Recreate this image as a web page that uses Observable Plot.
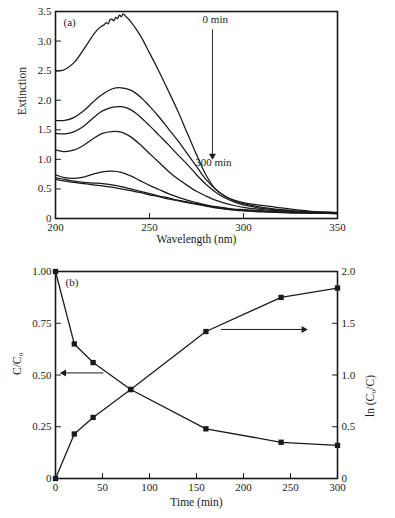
<!DOCTYPE html>
<html>
<head>
<meta charset="utf-8">
<script src="https://cdn.jsdelivr.net/npm/d3@7"></script>
<script src="https://cdn.jsdelivr.net/npm/@observablehq/plot@0.6"></script>
<style>
  html, body { margin: 0; padding: 0; background: #fff; }
  #chart svg { display: block; }
</style>
</head>
<body>
<div id="chart"></div>
<script>
// ---------- Panel (a): extinction spectra ----------
const times = [0, 20, 40, 80, 160, 240, 300];
const wavelengths = [200,205,210,215,220,225,230,235,240,245,250,255,260,265,270,275,280,285,290,295,300,310,320,330,340,350];
// 0 min spectrum (finer, noisy near peak)
const wl0 = [200,205,210,215,220,222,224,226,227,228,229,230,231,232,233,234,235,236,237,238,240,245,250,255,260,265,270,275,280,285,290,295,300,310,320,330,340,350];
const ext0 = [2.49,2.52,2.64,2.86,3.10,3.18,3.24,3.28,3.31,3.29,3.36,3.37,3.34,3.40,3.38,3.44,3.41,3.46,3.43,3.40,3.33,3.10,2.80,2.49,2.16,1.82,1.45,1.08,0.74,0.50,0.38,0.31,0.27,0.22,0.18,0.14,0.11,0.10];
const ext20  = [1.66,1.66,1.71,1.82,1.97,2.10,2.19,2.21,2.17,2.06,1.90,1.72,1.52,1.32,1.10,0.88,0.66,0.50,0.38,0.30,0.25,0.19,0.15,0.12,0.11,0.10];
const ext40  = [1.44,1.43,1.47,1.56,1.70,1.82,1.88,1.89,1.84,1.72,1.57,1.41,1.25,1.08,0.92,0.74,0.58,0.45,0.35,0.28,0.23,0.17,0.14,0.12,0.10,0.10];
const ext80  = [1.16,1.13,1.16,1.24,1.35,1.44,1.47,1.46,1.38,1.25,1.10,0.95,0.80,0.67,0.56,0.46,0.38,0.31,0.26,0.22,0.19,0.15,0.13,0.11,0.10,0.09];
const ext160 = [0.74,0.69,0.68,0.70,0.75,0.79,0.80,0.78,0.72,0.64,0.56,0.49,0.42,0.36,0.31,0.27,0.23,0.20,0.18,0.16,0.15,0.13,0.11,0.10,0.09,0.09];
const ext240 = [0.69,0.66,0.63,0.61,0.60,0.59,0.57,0.54,0.50,0.46,0.42,0.38,0.35,0.31,0.28,0.25,0.22,0.19,0.17,0.15,0.14,0.12,0.11,0.10,0.09,0.09];
const ext300 = [0.66,0.63,0.61,0.59,0.57,0.55,0.53,0.50,0.47,0.44,0.40,0.37,0.33,0.30,0.27,0.24,0.21,0.18,0.16,0.14,0.13,0.11,0.10,0.09,0.09,0.08];
const wlTicks = [200, 250, 300, 350];
const extTicks = [0, 0.5, 1.0, 1.5, 2.0, 2.5, 3.0, 3.5];

// ---------- Panel (b): kinetics ----------
const tMin = [0, 20, 40, 80, 160, 240, 300];
const ratioC = [1.00, 0.65, 0.56, 0.43, 0.24, 0.175, 0.16];   // C/C0 (left axis)
const lnC0C  = [0, 0.43, 0.59, 0.86, 1.42, 1.75, 1.84];        // ln(C0/C) (right axis)
const timeTicks = [0, 50, 100, 150, 200, 250, 300];
const ratioTicks = [0, 0.25, 0.5, 0.75, 1.0];
const lnTicks = [0, 0.5, 1.0, 1.5, 2.0];
const lnMax = 2.0; // right axis maps 0..2 onto 0..1

// ---------- build rows ----------
const specRows = [];
wl0.forEach((w, i) => specRows.push({t: 0, wl: w, e: ext0[i]}));
[[20, ext20],[40, ext40],[80, ext80],[160, ext160],[240, ext240],[300, ext300]].forEach(([t, arr]) =>
  arr.forEach((e, i) => specRows.push({t, wl: wavelengths[i], e})));
const kinRows = tMin.map((t, i) => ({t, r: ratioC[i], ln: lnC0C[i]}));

const FONT = "Liberation Serif, Times New Roman, serif";
const ink = "#1a1a1a";
const tickShape = {draw(context, l) { context.moveTo(0, 0); context.lineTo(0, -l); }};

// arrows: shaft + filled triangular head
const arrowA = [{x1: 283.5, x2: 283.5, y1: 3.2, y2: 1.06, rot: 180}];
const arrowsB = [{x1: 51, x2: 9, y1: 0.51, y2: 0.51, rot: -90}, {x1: 176, x2: 264, y1: 0.72, y2: 0.72, rot: 90}];

const plotA = Plot.plot({
  width: 395, height: 258,
  marginLeft: 55, marginRight: 58, marginTop: 11, marginBottom: 40,
  style: {fontFamily: FONT, fontSize: "11px", background: "white", color: ink},
  x: {domain: [200, 350]},
  y: {domain: [0, 3.5]},
  marks: [
    Plot.axisX({ticks: wlTicks, tickSize: 0, tickPadding: 5, tickFormat: d => String(d), label: null}),
    Plot.axisY({ticks: extTicks, tickSize: 0, tickPadding: 4, tickFormat: d => d === 0 ? "0" : d.toFixed(1), label: null}),
    Plot.vector(wlTicks, {x: d => d, y: 0, length: 5, rotate: 0, anchor: "start", shape: tickShape, stroke: ink, strokeWidth: 1}),
    Plot.vector(extTicks, {x: 200, y: d => d, length: 5, rotate: 90, anchor: "start", shape: tickShape, stroke: ink, strokeWidth: 1}),
    Plot.line(specRows, {x: "wl", y: "e", z: "t", curve: "catmull-rom", stroke: ink, strokeWidth: 1.25}),
    Plot.link(arrowA, {x1: "x1", x2: "x2", y1: "y1", y2: "y2", stroke: ink, strokeWidth: 0.9}),
    Plot.dot(arrowA, {x: "x2", y: "y2", symbol: "triangle", r: 2.6, rotate: "rot", fill: ink, stroke: "none"}),
    Plot.text(["0 min"], {x: 285, y: 3.37, text: d => d, fill: ink}),
    Plot.text(["300 min"], {x: 284, y: 0.94, text: d => d, fill: ink}),
    Plot.text(["(a)"], {frameAnchor: "top-left", dx: 8, dy: 7, text: d => d, fill: ink}),
    Plot.text(["Wavelength (nm)"], {frameAnchor: "bottom", dy: 24, text: d => d, fill: ink, fontSize: 11.5}),
    Plot.text(["Extinction"], {frameAnchor: "left", dx: -33, rotate: -90, text: d => d, fill: ink, fontSize: 11.5}),
    Plot.frame({stroke: ink, strokeWidth: 1.6})
  ]
});

const plotB = Plot.plot({
  width: 395, height: 260,
  marginLeft: 55, marginRight: 58, marginTop: 13, marginBottom: 40,
  style: {fontFamily: FONT, fontSize: "11px", background: "white", color: ink},
  x: {domain: [0, 300]},
  y: {domain: [0, 1]},
  marks: [
    Plot.axisX({ticks: timeTicks, tickSize: 0, tickPadding: 5, tickFormat: d => String(d), label: null}),
    Plot.axisY({ticks: ratioTicks, tickSize: 0, tickPadding: 4, tickFormat: d => d === 0 ? "0" : d.toFixed(2), label: null}),
    Plot.axisY({ticks: lnTicks.map(v => v / lnMax), anchor: "right", tickSize: 0, tickPadding: 4,
                tickFormat: d => d === 0 ? "0" : (d * lnMax).toFixed(1), label: null}),
    Plot.vector(timeTicks, {x: d => d, y: 0, length: 5, rotate: 0, anchor: "start", shape: tickShape, stroke: ink, strokeWidth: 1}),
    Plot.vector(ratioTicks, {x: 0, y: d => d, length: 5, rotate: 90, anchor: "start", shape: tickShape, stroke: ink, strokeWidth: 1}),
    Plot.vector(lnTicks, {x: 300, y: d => d / lnMax, length: 5, rotate: -90, anchor: "start", shape: tickShape, stroke: ink, strokeWidth: 1}),
    Plot.line(kinRows, {x: "t", y: "r", stroke: ink, strokeWidth: 1.3}),
    Plot.line(kinRows, {x: "t", y: d => d.ln / lnMax, stroke: ink, strokeWidth: 1.3}),
    Plot.dot(kinRows, {x: "t", y: "r", symbol: "square", r: 3, fill: ink, stroke: "none"}),
    Plot.dot(kinRows, {x: "t", y: d => d.ln / lnMax, symbol: "square", r: 3, fill: ink, stroke: "none"}),
    Plot.link(arrowsB, {x1: "x1", x2: "x2", y1: "y1", y2: "y2", stroke: ink, strokeWidth: 1}),
    Plot.dot(arrowsB, {x: "x2", y: "y2", symbol: "triangle", r: 2.6, rotate: "rot", fill: ink, stroke: "none"}),
    Plot.text(["(b)"], {frameAnchor: "top-left", dx: 10, dy: 7, text: d => d, fill: ink}),
    Plot.text(["Time (min)"], {frameAnchor: "bottom", dy: 27, text: d => d, fill: ink, fontSize: 11.5}),
    Plot.text(["C/C\u2080"], {frameAnchor: "left", dx: -38, rotate: -90, text: d => d, fill: ink, fontSize: 11.5}),
    Plot.text(["ln (C\u2080/C)"], {frameAnchor: "right", dx: 33, rotate: -90, text: d => d, fill: ink, fontSize: 11.5}),
    Plot.frame({stroke: ink, strokeWidth: 1.6})
  ]
});

const root = document.getElementById("chart");
root.appendChild(plotA);
root.appendChild(plotB);
</script>
</body>
</html>
